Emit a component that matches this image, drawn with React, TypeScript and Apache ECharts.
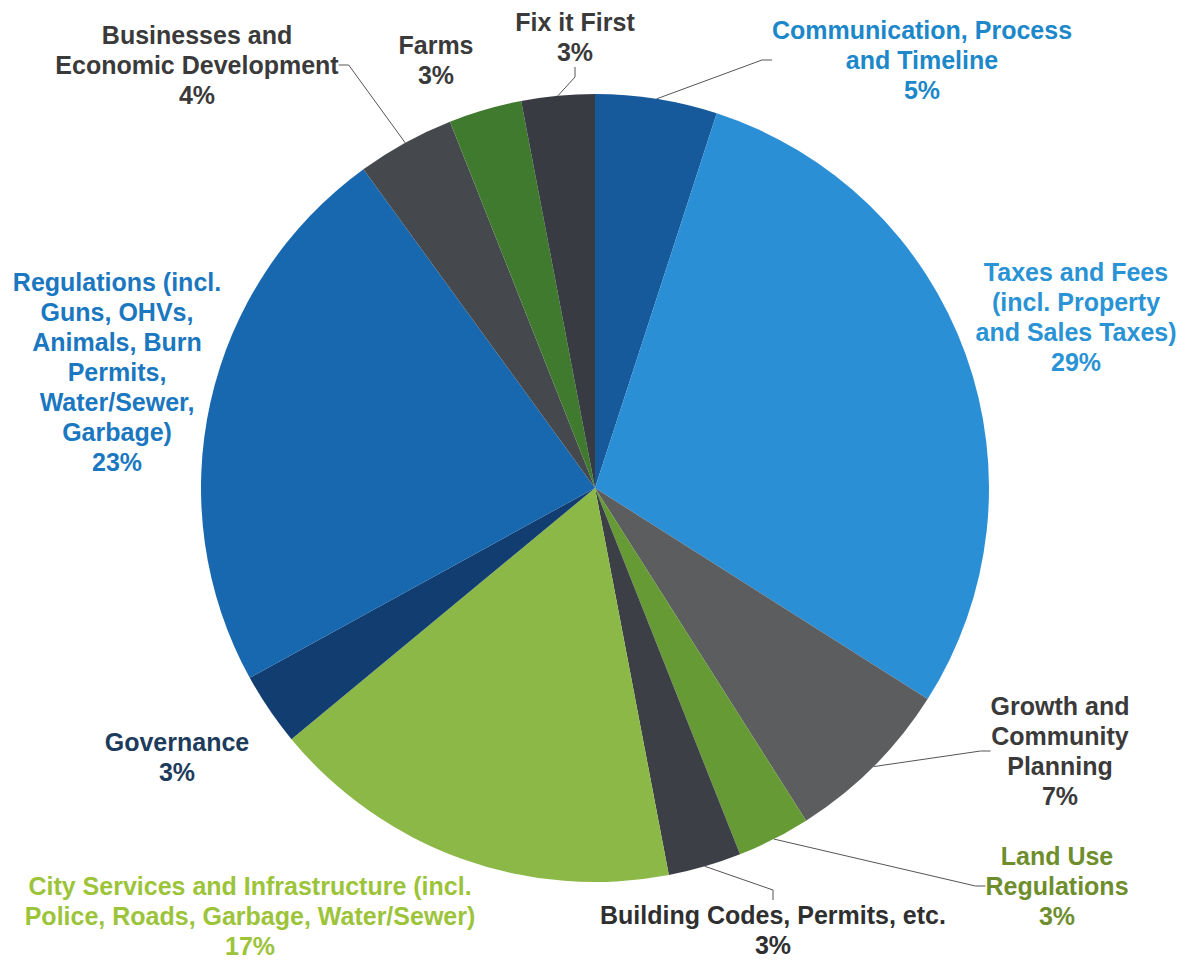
import React, { useEffect, useRef } from "react";
import * as echarts from "echarts";

const categories = [
  "Communication, Process\nand Timeline",
  "Taxes and Fees\n(incl. Property\nand Sales Taxes)",
  "Growth and\nCommunity\nPlanning",
  "Land Use\nRegulations",
  "Building Codes, Permits, etc.",
  "City Services and Infrastructure (incl.\nPolice, Roads, Garbage, Water/Sewer)",
  "Governance",
  "Regulations (incl.\nGuns, OHVs,\nAnimals, Burn\nPermits,\nWater/Sewer,\nGarbage)",
  "Businesses and\nEconomic Development",
  "Farms",
  "Fix it First",
];
const values = [5, 29, 7, 3, 3, 17, 3, 23, 4, 3, 3];
const sliceColors = [
  "#165a9c", "#2b8fd6", "#5c5d5f", "#669a34", "#3c4046", "#8cb848",
  "#123d70", "#1868b0", "#45484c", "#3f7a2e", "#383c42",
];
const labelColors = [
  "#1c87c9", "#2a93d5", "#3a3a3a", "#6e8e2e", "#2f2f2f", "#9cc43a",
  "#1d3b5c", "#1a77c0", "#3a3a3a", "#3a3a3a", "#3a3a3a",
];
const showLines = [true, false, true, true, true, false, false, false, true, false, true];
// label centre positions (layout only)
const labelPos: [number, number][] = [
  [922, 60], [1076, 317], [1060, 751], [1057, 886], [773, 930], [250, 916],
  [177, 757], [117, 372], [197, 65], [436, 60], [575, 37],
];

export default function App() {
  const ref = useRef<HTMLDivElement>(null);
  useEffect(() => {
    if (!ref.current) return;
    const chart = echarts.init(ref.current, null, { renderer: "svg" });
    chart.setOption({
      animation: false,
      backgroundColor: "#ffffff",
      series: [
        {
          type: "pie",
          center: [595, 488],
          radius: 394,
          startAngle: 90,
          clockwise: true,
          avoidLabelOverlap: false,
          itemStyle: { borderWidth: 0 },
          label: {
            show: true,
            position: "outside",
            formatter: "{b}\n{d}%",
            fontFamily: "Liberation Sans, Arial, sans-serif",
            fontWeight: "bold",
            fontSize: 25,
            lineHeight: 30,
            align: "center",
          },
          labelLine: {
            show: true,
            length: 10,
            length2: 10,
            lineStyle: { color: "#555", width: 1 },
          },
          labelLayout: (p: any) => {
            const pos = labelPos[p.dataIndex];
            return { x: pos[0], y: pos[1], align: "center", verticalAlign: "middle" };
          },
          data: categories.map((name, i) => ({
            name,
            value: values[i],
            itemStyle: { color: sliceColors[i] },
            label: { color: labelColors[i] },
            labelLine: { show: showLines[i] },
          })),
        },
      ],
    });
    return () => chart.dispose();
  }, []);
  return (
    <div
      ref={ref}
      style={{ position: "absolute", left: 0, top: 0, width: 1186, height: 960 }}
    />
  );
}
